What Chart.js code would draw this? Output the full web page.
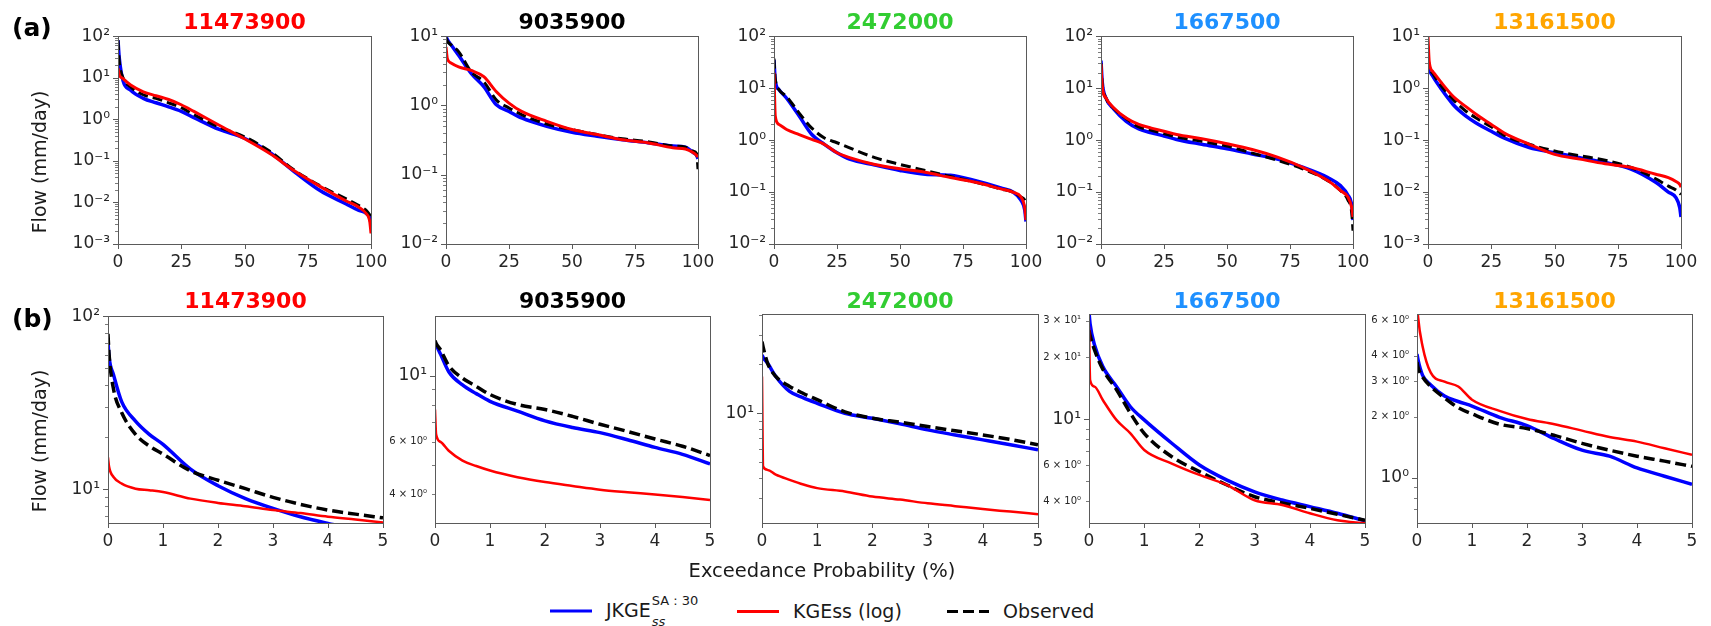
<!DOCTYPE html>
<html>
<head>
<meta charset="utf-8">
<title>Flow duration curves</title>
<script src="https://cdn.jsdelivr.net/npm/chart.js@4.4.1/dist/chart.umd.min.js"></script>
<style>
  html, body { margin: 0; padding: 0; background: #fff; }
  body { width: 1711px; height: 626px; position: relative; overflow: hidden;
         font-family: "DejaVu Sans", sans-serif; color: #000; }
  canvas { position: absolute; }
  .txt { position: absolute; white-space: nowrap; line-height: 1; }
  .title { font-weight: bold; font-size: 22px; transform: translate(-50%, -50%); }
  .tag { font-weight: bold; font-size: 25px; transform: translateY(-50%); }
  .ylab { font-size: 19px; transform: translate(-50%, -50%) rotate(-90deg); color: #1a1a1a; }
  .xlab { font-size: 19.5px; transform: translate(-50%, -50%); color: #1a1a1a; }
  .leg { position: absolute; top: 611px; transform: translateY(-50%); display: flex; align-items: center;
         font-size: 19px; color: #1a1a1a; white-space: nowrap; line-height: 1; }
  .leg svg { margin-right: 14px; }
  .ss { display: inline-flex; flex-direction: column; font-size: 13px; line-height: 1;
        margin-left: 1px; vertical-align: middle; }
  .ss .sup { transform: translateY(-4px); }
  .ss .sub { font-style: italic; transform: translateY(4px); }
</style>
</head>
<body>
<script>
// ---------------------------------------------------------------------------
// Data
// ---------------------------------------------------------------------------
const stations = ['11473900', '9035900', '2472000', '1667500', '13161500'];
const stationColors = ['#ff0000', '#000000', '#32cd32', '#1e90ff', '#ffa500'];

// exceedance probability (%) at which the flows below are listed
const probFull = [0, 0.5, 2, 5, 10, 15, 20, 25, 30, 40, 50, 60, 70, 80, 90, 95, 98, 99.5, 100];
const probTop5 = [0, 0.02, 0.1, 0.25, 0.5, 0.75, 1, 1.5, 2, 2.5, 3, 3.5, 4, 4.5, 5];

const xTicksFull = [0, 25, 50, 75, 100];
const xTicksTop5 = [0, 1, 2, 3, 4, 5];

// (a) full flow duration curves, mm/day
const obsFull_11473900 = [80, 25, 10, 6.0, 3.9, 3.2, 2.5, 1.9, 1.3, 0.65, 0.38, 0.17, 0.058, 0.025, 0.0123, 0.0085, 0.0065, 0.005, 0.0045];
const jkgeFull_11473900 = [80, 30, 8.5, 5.0, 3.2, 2.5, 2.0, 1.55, 1.1, 0.57, 0.35, 0.16, 0.053, 0.019, 0.0093, 0.0065, 0.0055, 0.0042, 0.0032];
const kgeFull_11473900 = [17, 12, 9.5, 6.7, 4.6, 3.7, 3.0, 2.24, 1.55, 0.72, 0.34, 0.15, 0.056, 0.024, 0.011, 0.0078, 0.0055, 0.0035, 0.0018];

const obsFull_9035900 = [9.5, 8.5, 7.5, 6.0, 3.05, 2.2, 1.2, 0.92, 0.74, 0.54, 0.45, 0.38, 0.33, 0.30, 0.26, 0.25, 0.22, 0.2, 0.12];
const jkgeFull_9035900 = [10, 9, 7.5, 5.3, 2.9, 1.87, 1.02, 0.82, 0.66, 0.5, 0.41, 0.36, 0.32, 0.29, 0.26, 0.25, 0.21, 0.19, 0.17];
const kgeFull_9035900 = [7.0, 4.8, 4.1, 3.6, 3.2, 2.6, 1.58, 1.08, 0.82, 0.59, 0.45, 0.38, 0.32, 0.29, 0.245, 0.235, 0.21, 0.19, 0.18];

const obsFull_2472000 = [37, 15, 9.3, 6.9, 3.3, 1.7, 1.1, 0.89, 0.71, 0.46, 0.34, 0.26, 0.2, 0.154, 0.115, 0.099, 0.08, 0.07, 0.06];
const jkgeFull_2472000 = [35, 14, 9.3, 6.4, 2.9, 1.28, 0.83, 0.57, 0.43, 0.33, 0.26, 0.22, 0.21, 0.165, 0.12, 0.099, 0.07, 0.045, 0.027];
const kgeFull_2472000 = [20, 2.9, 2.0, 1.6, 1.28, 1.03, 0.83, 0.57, 0.46, 0.34, 0.28, 0.24, 0.19, 0.154, 0.115, 0.099, 0.08, 0.05, 0.029];

const obsFull_1667500 = [30, 12, 6.4, 4.1, 2.6, 1.8, 1.55, 1.33, 1.15, 0.95, 0.77, 0.56, 0.41, 0.28, 0.166, 0.107, 0.07, 0.04, 0.018];
const jkgeFull_1667500 = [34, 13, 6.4, 4.0, 2.3, 1.64, 1.38, 1.2, 1.03, 0.83, 0.68, 0.54, 0.43, 0.3, 0.19, 0.133, 0.087, 0.055, 0.029];
const kgeFull_1667500 = [29, 11, 6.4, 4.2, 2.66, 2.0, 1.7, 1.48, 1.28, 1.06, 0.85, 0.66, 0.47, 0.3, 0.166, 0.107, 0.08, 0.05, 0.033];

const obsFull_13161500 = [4, 2.6, 1.9, 1.15, 0.6, 0.36, 0.25, 0.18, 0.125, 0.083, 0.062, 0.05, 0.041, 0.03, 0.018, 0.013, 0.011, 0.0095, 0.009];
const jkgeFull_13161500 = [3, 2.3, 1.66, 1.0, 0.48, 0.29, 0.2, 0.148, 0.11, 0.072, 0.057, 0.046, 0.037, 0.028, 0.0154, 0.01, 0.0078, 0.005, 0.0033];
const kgeFull_13161500 = [10, 3.2, 2.06, 1.33, 0.69, 0.44, 0.29, 0.2, 0.138, 0.083, 0.053, 0.043, 0.035, 0.03, 0.022, 0.019, 0.016, 0.014, 0.0124];

// (b) highest 5 % of flows, mm/day
const obsTop5_11473900 = [79, 60, 38, 27.7, 20.8, 17.8, 16, 12.8, 11.3, 10.1, 9.0, 8.2, 7.6, 7.2, 6.85];
const jkgeTop5_11473900 = [71, 58, 46, 32, 24.8, 20.8, 18.2, 13.1, 10.5, 8.85, 7.77, 6.95, 6.37, 5.9, 5.5];
const kgeTop5_11473900 = [15.3, 13.5, 11.8, 10.8, 10.1, 9.9, 9.66, 8.85, 8.36, 8.0, 7.6, 7.3, 6.95, 6.7, 6.45];

const obsTop5_9035900 = [13.1, 12.8, 12.2, 10.8, 9.8, 9.2, 8.64, 8.0, 7.7, 7.3, 6.87, 6.5, 6.13, 5.8, 5.4];
const jkgeTop5_9035900 = [13.0, 12.7, 11.8, 10.3, 9.3, 8.7, 8.2, 7.6, 7.05, 6.7, 6.44, 6.1, 5.75, 5.45, 5.06];
const kgeTop5_9035900 = [7.7, 6.36, 6.0, 5.6, 5.19, 4.98, 4.81, 4.57, 4.4, 4.27, 4.15, 4.07, 4.0, 3.92, 3.83];

const obsTop5_2472000 = [27.5, 25.5, 20.3, 16.8, 14.6, 13.2, 12.1, 10.2, 9.3, 8.8, 8.28, 7.8, 7.36, 6.9, 6.4];
const jkgeTop5_2472000 = [22.8, 22.0, 20.3, 16.8, 13.6, 12.4, 11.5, 10.0, 9.3, 8.6, 7.9, 7.35, 6.86, 6.4, 5.96];
const kgeTop5_2472000 = [16.8, 4.7, 4.49, 4.2, 3.9, 3.65, 3.47, 3.31, 3.08, 2.95, 2.8, 2.69, 2.58, 2.49, 2.4];

const obsTop5_1667500 = [27, 25.5, 21.7, 17.5, 13.9, 10.7, 8.55, 6.58, 5.57, 4.8, 4.21, 3.93, 3.7, 3.46, 3.24];
const jkgeTop5_1667500 = [33, 29, 22.9, 18, 14.4, 11.5, 9.93, 7.65, 6.0, 5.07, 4.45, 4.06, 3.77, 3.5, 3.22];
const kgeTop5_1667500 = [28.2, 15.5, 14.4, 12.4, 9.9, 8.55, 7.1, 6.1, 5.37, 4.8, 4.05, 3.84, 3.5, 3.24, 3.13];

const obsTop5_13161500 = [3.72, 3.5, 3.15, 2.82, 2.48, 2.22, 2.07, 1.84, 1.75, 1.62, 1.48, 1.37, 1.28, 1.21, 1.14];
const jkgeTop5_13161500 = [4.08, 3.8, 3.21, 2.87, 2.53, 2.38, 2.26, 1.99, 1.81, 1.56, 1.37, 1.28, 1.12, 1.02, 0.93];
const kgeTop5_13161500 = [7.5, 6.2, 4.47, 3.3, 2.98, 2.82, 2.43, 2.14, 1.95, 1.84, 1.71, 1.59, 1.51, 1.4, 1.3];

// y-axis limits and the minor ticks that carry a label
const yLimFull = [[1e-3, 1e2], [1e-2, 1e1], [1e-2, 1e2], [1e-2, 1e2], [1e-3, 1e1]];
const yLimTop5 = [[6.4, 100], [3.21, 15.8], [2.12, 40.6], [3.14, 32.4], [0.635, 6.42]];
const minorLabelsTop5 = [[], [4, 6], [], [4, 6, 20, 30], [2, 3, 4, 6]];

const seriesNames = ['JKGE_ss^SA:30', 'KGEss (log)', 'Observed'];

// ---------------------------------------------------------------------------
// Layout
// ---------------------------------------------------------------------------
const FONT = '"DejaVu Sans", sans-serif';
const TICK_COLOR = '#262626';
const YW = 80, PT = 16, PR = 26, XH = 34;   // room around each plot area

const rowA = { top: 34, bottom: 244, cols: [[118, 371], [446, 698], [774, 1026], [1101, 1353], [1428, 1681]], titleY: 22 };
const rowB = { top: 314, bottom: 523, cols: [[108, 383], [435, 710], [762, 1038], [1089, 1365], [1417, 1692]], titleY: 301 };

const obsFull = [obsFull_11473900, obsFull_9035900, obsFull_2472000, obsFull_1667500, obsFull_13161500];
const jkgeFull = [jkgeFull_11473900, jkgeFull_9035900, jkgeFull_2472000, jkgeFull_1667500, jkgeFull_13161500];
const kgeFull = [kgeFull_11473900, kgeFull_9035900, kgeFull_2472000, kgeFull_1667500, kgeFull_13161500];
const obsTop5 = [obsTop5_11473900, obsTop5_9035900, obsTop5_2472000, obsTop5_1667500, obsTop5_13161500];
const jkgeTop5 = [jkgeTop5_11473900, jkgeTop5_9035900, jkgeTop5_2472000, jkgeTop5_1667500, jkgeTop5_13161500];
const kgeTop5 = [kgeTop5_11473900, kgeTop5_9035900, kgeTop5_2472000, kgeTop5_1667500, kgeTop5_13161500];

const SUP = { '0': '⁰', '1': '¹', '2': '²', '3': '³', '4': '⁴', '5': '⁵', '6': '⁶', '7': '⁷', '8': '⁸', '9': '⁹', '-': '⁻' };
const sup = (n) => String(n).split('').map(ch => SUP[ch]).join('');

// decade and 2..9 sub-decade ticks between min and max
function logTicks(min, max, labeled) {
  const out = [];
  const e0 = Math.floor(Math.log10(min)) - 1, e1 = Math.ceil(Math.log10(max)) + 1;
  for (let e = e0; e <= e1; e++) {
    for (let c = 1; c <= 9; c++) {
      const v = Number((c * Math.pow(10, e)).toPrecision(8));
      if (v < min * 0.9999 || v > max * 1.0001) continue;
      const lab = c === 1 ? '10' + sup(e)
        : (labeled.some(m => Math.abs(m - v) < 1e-9 * v) ? c + ' × 10' + sup(e) : '');
      out.push({ value: v, major: c === 1, label: lab });
    }
  }
  return out;
}

// axis frame and outward tick marks
const framePlugin = {
  id: 'frame',
  afterDraw(chart) {
    const { ctx, chartArea: a, scales } = chart;
    ctx.save();
    ctx.strokeStyle = '#5a5a5a';
    ctx.lineWidth = 1;
    ctx.strokeRect(Math.round(a.left) + 0.5, Math.round(a.top) + 0.5,
                   Math.round(a.right - a.left), Math.round(a.bottom - a.top));
    ctx.beginPath();
    scales.x.ticks.forEach(t => {
      const px = Math.round(scales.x.getPixelForValue(t.value)) + 0.5;
      ctx.moveTo(px, a.bottom); ctx.lineTo(px, a.bottom + 5);
    });
    ctx.stroke();
    const yt = chart.options.scales.y._tickList;
    yt.forEach(t => {
      const py = Math.round(scales.y.getPixelForValue(t.value)) + 0.5;
      ctx.beginPath();
      ctx.lineWidth = t.major ? 1 : 0.8;
      ctx.moveTo(a.left, py); ctx.lineTo(a.left - (t.major ? 5 : 3), py);
      ctx.stroke();
    });
    ctx.restore();
  }
};

function makePanel(row, i, probs, obs, jkge, kge, yLim, minorLabels, xMax, xTicks, widths) {
  const [L, R] = row.cols[i];
  const W = R - L, H = row.bottom - row.top;
  const canvas = document.createElement('canvas');
  canvas.width = YW + W + PR;
  canvas.height = PT + H + XH;
  canvas.style.left = (L - YW) + 'px';
  canvas.style.top = (row.top - PT) + 'px';
  canvas.style.width = canvas.width + 'px';
  canvas.style.height = canvas.height + 'px';
  document.body.appendChild(canvas);

  const ticks = logTicks(yLim[0], yLim[1], minorLabels);
  const line = (vals, color, w, dash) => ({
    data: probs.map((p, k) => ({ x: p, y: vals[k] })),
    borderColor: color, borderWidth: w, borderDash: dash || [],
    pointRadius: 0, fill: false, cubicInterpolationMode: 'monotone',
    clip: 0, borderCapStyle: 'butt', borderJoinStyle: 'round'
  });

  new Chart(canvas, {
    type: 'line',
    data: {
      datasets: [
        Object.assign(line(kge, '#ff0000', widths.kge), { label: seriesNames[1] }),
        Object.assign(line(obs, '#000000', widths.obs, widths.dash), { label: seriesNames[2] }),
        Object.assign(line(jkge, '#0000ff', widths.jkge), { label: seriesNames[0] })
      ]
    },
    options: {
      responsive: false, animation: false, devicePixelRatio: 1, events: [],
      layout: { padding: { left: 0, top: PT, right: PR, bottom: 0 }, autoPadding: false },
      plugins: { legend: { display: false }, tooltip: { enabled: false }, title: { display: false } },
      scales: {
        x: {
          type: 'linear', min: 0, max: xMax,
          grid: { display: false, drawTicks: false }, border: { display: false },
          afterBuildTicks: s => { s.ticks = xTicks.map(v => ({ value: v })); },
          afterFit: s => { s.height = XH; },
          ticks: { autoSkip: false, maxRotation: 0, padding: 8, color: TICK_COLOR,
                   font: { family: FONT, size: 17 }, callback: v => String(v) }
        },
        y: {
          type: 'logarithmic', min: yLim[0], max: yLim[1],
          _tickList: ticks,
          grid: { display: false, drawTicks: false }, border: { display: false },
          afterBuildTicks: s => { s.ticks = ticks.map(t => ({ value: t.value, major: t.major })); },
          afterFit: s => { s.width = YW; },
          ticks: {
            autoSkip: false, padding: 8, color: TICK_COLOR,
            callback: (v, k) => ticks[k] ? ticks[k].label : '',
            font: c => ({ family: FONT, size: (ticks[c.index] && ticks[c.index].major) ? 17 : 10 })
          }
        }
      }
    },
    plugins: [framePlugin]
  });

  addText('title', stations[i], (L + R) / 2, row.titleY, stationColors[i]);
}

function addText(cls, text, x, y, color) {
  const d = document.createElement('div');
  d.className = 'txt ' + cls;
  d.textContent = text;
  d.style.left = x + 'px';
  d.style.top = y + 'px';
  if (color) d.style.color = color;
  document.body.appendChild(d);
  return d;
}

for (let i = 0; i < 5; i++) {
  makePanel(rowA, i, probFull, obsFull[i], jkgeFull[i], kgeFull[i], yLimFull[i], [], 100, xTicksFull,
            { jkge: 3.5, kge: 3, obs: 3, dash: [10, 5] });
  makePanel(rowB, i, probTop5, obsTop5[i], jkgeTop5[i], kgeTop5[i], yLimTop5[i], minorLabelsTop5[i], 5, xTicksTop5,
            { jkge: 3.5, kge: 2.5, obs: 3.5, dash: [11, 5] });
}

addText('tag', '(a)', 12, 27);
addText('tag', '(b)', 12, 318);
addText('ylab', 'Flow (mm/day)', 39, 162);
addText('ylab', 'Flow (mm/day)', 39, 441);
addText('xlab', 'Exceedance Probability (%)', 822, 571);

// legend
function legendItem(x, color, dash, html) {
  const d = document.createElement('div');
  d.className = 'leg';
  d.style.left = x + 'px';
  d.innerHTML = '<svg width="42" height="8"><line x1="0" y1="4" x2="42" y2="4" stroke="' + color +
    '" stroke-width="3" ' + (dash ? 'stroke-dasharray="' + dash + '"' : '') + '/></svg><span>' + html + '</span>';
  document.body.appendChild(d);
}
legendItem(550, '#0000ff', null,
  'JKGE<span class="ss"><span class="sup">SA : 30</span><span class="sub">ss</span></span>');
legendItem(737, '#ff0000', null, 'KGEss (log)');
legendItem(947, '#000000', '11 5', 'Observed');
</script>
</body>
</html>
